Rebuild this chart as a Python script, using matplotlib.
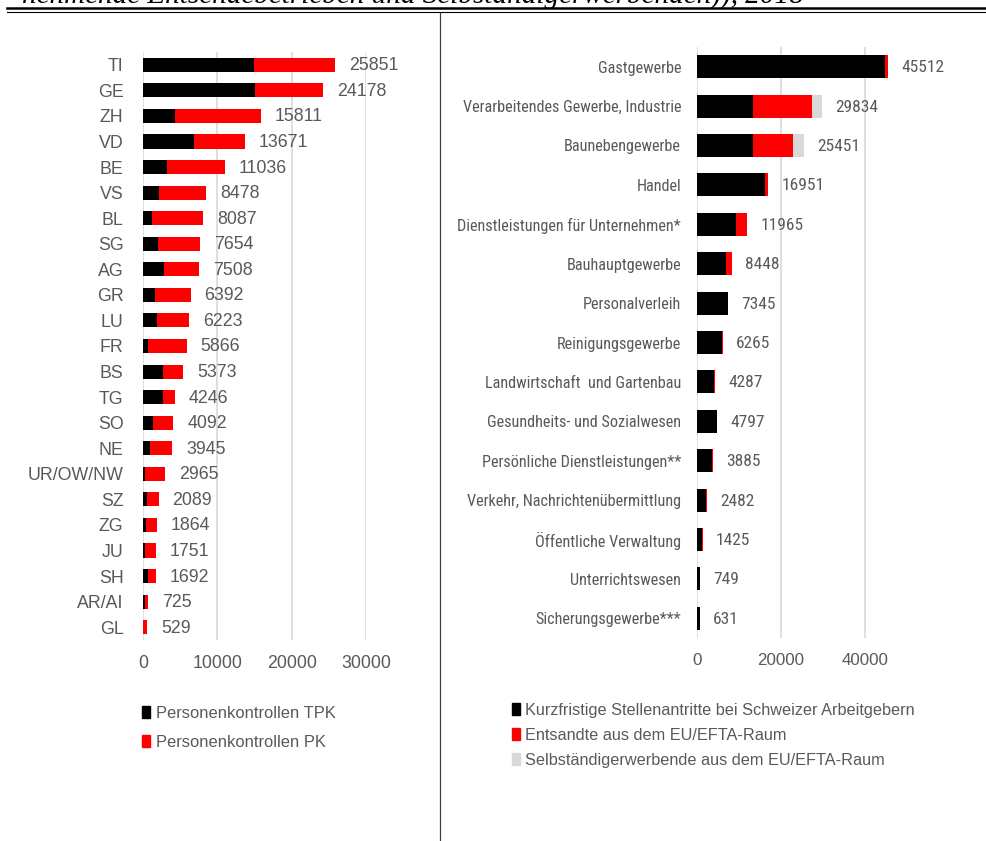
import numpy as np
import matplotlib
matplotlib.use("Agg")
import matplotlib.pyplot as plt
from matplotlib.lines import Line2D
from matplotlib.patches import Patch

# --- data -----------------------------------------------------------------
cantons = ["TI", "GE", "ZH", "VD", "BE", "VS", "BL", "SG", "AG", "GR", "LU", "FR",
           "BS", "TG", "SO", "NE", "UR/OW/NW", "SZ", "ZG", "JU", "SH", "AR/AI", "GL"]
canton_total = [25851, 24178, 15811, 13671, 11036, 8478, 8087, 7654, 7508, 6392, 6223, 5866,
                5373, 4246, 4092, 3945, 2965, 2089, 1864, 1751, 1692, 725, 529]
canton_tpk = [14950, 15120, 4260, 6860, 3280, 2200, 1210, 2020, 2830, 1570, 1840, 720,
              2650, 2650, 1390, 900, 310, 580, 400, 300, 720, 270, 50]
canton_pk = [t - k for t, k in zip(canton_total, canton_tpk)]

branches = ["Gastgewerbe", "Verarbeitendes Gewerbe, Industrie", "Baunebengewerbe", "Handel",
            "Dienstleistungen für Unternehmen*", "Bauhauptgewerbe", "Personalverleih",
            "Reinigungsgewerbe", "Landwirtschaft  und Gartenbau", "Gesundheits- und Sozialwesen",
            "Persönliche Dienstleistungen**", "Verkehr, Nachrichtenübermittlung",
            "Öffentliche Verwaltung", "Unterrichtswesen", "Sicherungsgewerbe***"]
branch_total = [45512, 29834, 25451, 16951, 11965, 8448, 7345, 6265, 4287, 4797, 3885, 2482,
                1425, 749, 631]
branch_kurz = [44840, 13260, 13260, 16110, 9210, 6980, 7300, 5950, 3990, 4760, 3550, 2060,
               1270, 749, 631]
branch_selb = [0, 2370, 2510, 0, 0, 0, 0, 0, 0, 0, 0, 0, 0, 0, 0]
branch_ents = [t - k - s for t, k, s in zip(branch_total, branch_kurz, branch_selb)]

legend_left = ["Personenkontrollen TPK", "Personenkontrollen PK"]
legend_right = ["Kurzfristige Stellenantritte bei Schweizer Arbeitgebern",
                "Entsandte aus dem EU/EFTA-Raum",
                "Selbständigerwerbende aus dem EU/EFTA-Raum"]
title_text = "nehmende Entsendebetrieben und Selbständigerwerbenden)), 2018"

# --- style ----------------------------------------------------------------
W, H = 986, 841
TXT = "#595959"
GRID = "#D9D9D9"
BLACK, RED, GRAY = "#000000", "#FF0000", "#D9D9D9"
plt.rcParams["font.family"] = ["Liberation Sans", "DejaVu Sans"]
# right panel text is visibly narrower in the source
COND = dict(family=["Roboto Condensed", "Noto Sans", "DejaVu Sans"], stretch="condensed")


def fx(x):
    return x / W


def fy(y):
    return 1 - y / H


fig = plt.figure(figsize=(W / 100, H / 100), dpi=100)

# left axes: pixel box x 143..366, y 52..640
ax_l = fig.add_axes([fx(143), fy(640), fx(366) - fx(143), fy(52) - fy(640)])
# right axes: pixel box x 697..907, y 47..638
ax_r = fig.add_axes([fx(697), fy(638), fx(907) - fx(697), fy(47) - fy(638)])


def style(ax, labels, xmax, ticks, lpad, fs_y, fs_x, ykw=None):
    ax.set_xlim(0, xmax)
    ax.set_xticks(ticks)
    ax.set_xticklabels([str(t) for t in ticks])
    ax.set_ylim(len(labels) - 0.5, -0.5)
    ax.set_yticks(np.arange(len(labels)))
    ax.set_yticklabels(labels, **(ykw or {}))
    for s in ax.spines.values():
        s.set_visible(False)
    ax.grid(axis="x", color=GRID, lw=1.2)
    ax.set_axisbelow(True)
    ax.tick_params(axis="both", length=0, labelcolor=TXT)
    ax.tick_params(axis="x", pad=11, labelsize=fs_x)
    ax.tick_params(axis="y", pad=lpad, labelsize=fs_y)


y = np.arange(len(cantons))
ax_l.barh(y, canton_tpk, height=0.55, color=BLACK)
ax_l.barh(y, canton_pk, left=canton_tpk, height=0.55, color=RED)
for i, t in enumerate(canton_total):
    ax_l.annotate(str(t), xy=(t, i), xytext=(14, -1), textcoords="offset pixels",
                  va="center", ha="left", fontsize=12.8, color=TXT, annotation_clip=False)
style(ax_l, cantons, 30000, [0, 10000, 20000, 30000], 14, 12.8, 12.8)

y2 = np.arange(len(branches))
left2 = np.array(branch_kurz) + np.array(branch_ents)
ax_r.barh(y2, branch_kurz, height=0.58, color=BLACK)
ax_r.barh(y2, branch_ents, left=branch_kurz, height=0.58, color=RED)
ax_r.barh(y2, branch_selb, left=left2, height=0.58, color=GRAY)
for i, t in enumerate(branch_total):
    ax_r.annotate(str(t), xy=(t, i), xytext=(13, -1), textcoords="offset pixels",
                  va="center", ha="left", fontsize=12.5, color=TXT, annotation_clip=False,
                  **COND)
style(ax_r, branches, 50000, [0, 20000, 40000], 11.5, 11.7, 12.2, COND)

# legends
fig.legend([Patch(color=BLACK), Patch(color=RED)], legend_left,
           loc="upper left", bbox_to_anchor=(fx(127), fy(691)), frameon=False,
           fontsize=11.9, labelcolor=TXT, handlelength=0.5, handleheight=0.7,
           handletextpad=0.35, labelspacing=0.85)
fig.legend([Patch(color=BLACK), Patch(color=RED), Patch(color=GRAY)], legend_right,
           loc="upper left", bbox_to_anchor=(fx(497), fy(688)), frameon=False,
           fontsize=11.7, labelcolor=TXT, handlelength=0.5, handleheight=0.7,
           handletextpad=0.35, labelspacing=0.62)

# header: clipped title and double rule
fig.text(fx(22), fy(3), title_text, fontsize=21, style="italic",
         family=["Liberation Serif", "DejaVu Serif"], ha="left", va="baseline", color="black")
fig.add_artist(Line2D([fx(7), fx(986)], [fy(8), fy(8)], color="black", lw=1.8))
fig.add_artist(Line2D([fx(7), fx(986)], [fy(11.5), fy(11.5)], color="black", lw=0.8))
fig.add_artist(Line2D([fx(440), fx(440)], [fy(13), fy(841)], color="#404040", lw=0.9))

fig.savefig("out.png", dpi=100)
